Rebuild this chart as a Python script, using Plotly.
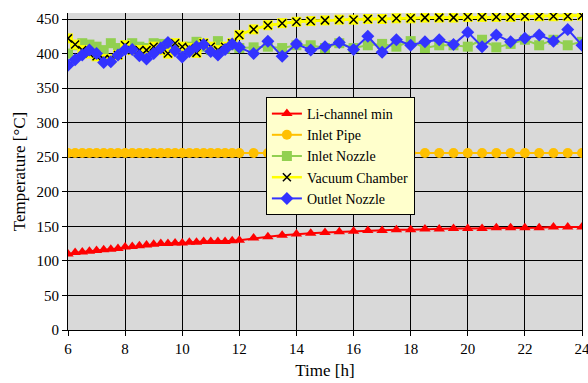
import plotly.graph_objects as go

# Time axis: 6..12 h every 0.25 h, then 12.5..24 h every 0.5 h
time_fine = [6 + 0.25 * i for i in range(25)]
time_coarse = [12.5 + 0.5 * i for i in range(24)]
time_h = time_fine + time_coarse

li_channel_min = [110, 112, 113, 114, 115, 116, 117, 118, 120, 121, 122, 123, 124,
                  125, 125, 126, 126, 127, 127, 128, 128, 128, 128, 129, 130,
                  133, 135, 137, 139, 140, 141, 142, 143, 144, 144, 145, 145,
                  146, 146, 147, 147, 147, 148, 148, 148, 148, 149, 149, 149]

inlet_pipe = [256] * 49

inlet_nozzle = [400, 412, 415, 413, 410, 405, 415, 408, 412, 415, 410, 408, 415,
                414, 405, 412, 408, 410, 417, 410, 405, 418, 407, 412, 408,
                409, 410, 408, 412, 412, 408, 415, 408, 412, 414, 410, 418,
                408, 412, 412, 410, 420, 409, 414, 420, 412, 420, 412, 417]

vacuum_chamber = [422, 413, 405, 400, 396, 392, 392, 398, 412, 405, 405, 405, 410,
                  405, 400, 415, 410, 408, 401, 415, 410, 405, 410, 415, 427,
                  435, 441, 444, 446, 447, 448, 449, 449, 450, 450, 451, 451,
                  452, 452, 452, 453, 453, 453, 453, 454, 454, 454, 454, 455]

outlet_nozzle = [383, 391, 398, 405, 400, 387, 388, 398, 406, 406, 397, 392, 400,
                 408, 416, 404, 395, 403, 410, 413, 403, 398, 406, 414, 409,
                 400, 418, 396, 414, 405, 410, 416, 406, 425, 402, 420, 412,
                 417, 420, 413, 431, 410, 427, 417, 422, 427, 418, 435, 412]

x_ticks = [6, 8, 10, 12, 14, 16, 18, 20, 22, 24]
y_ticks = [0, 50, 100, 150, 200, 250, 300, 350, 400, 450]

FONT = "Liberation Serif"

fig = go.Figure()
fig.add_trace(go.Scatter(x=time_h, y=li_channel_min, name="Li-channel min",
                         mode="lines+markers", line=dict(color="#FF0000", width=2),
                         marker=dict(symbol="triangle-up", size=10, color="#FF0000")))
fig.add_trace(go.Scatter(x=time_h, y=inlet_pipe, name="Inlet Pipe",
                         mode="lines+markers", line=dict(color="#FFC000", width=2),
                         marker=dict(symbol="circle", size=10, color="#FFC000")))
fig.add_trace(go.Scatter(x=time_h, y=inlet_nozzle, name="Inlet Nozzle",
                         mode="lines+markers", line=dict(color="#92D050", width=2),
                         marker=dict(symbol="square", size=10, color="#92D050")))
fig.add_trace(go.Scatter(x=time_h, y=vacuum_chamber, name="Vacuum Chamber",
                         mode="lines+markers", line=dict(color="#FFFF00", width=2.5),
                         marker=dict(symbol="square", size=10, color="#FFFF00"),
                         showlegend=False, legendgroup="vac"))
fig.add_trace(go.Scatter(x=time_h, y=vacuum_chamber, name="Vacuum Chamber",
                         mode="lines+markers", line=dict(color="#FFFF00", width=2.5),
                         marker=dict(symbol="x-thin-open", size=8, color="black",
                                     line=dict(color="black", width=1.5)),
                         legendgroup="vac"))
fig.add_trace(go.Scatter(x=time_h, y=outlet_nozzle, name="Outlet Nozzle",
                         mode="lines+markers", line=dict(color="#3333FF", width=2),
                         marker=dict(symbol="diamond", size=10, color="#3333FF")))

fig.update_layout(
    width=588, height=383,
    margin=dict(l=68, r=6, t=13, b=53, autoexpand=False),
    paper_bgcolor="white", plot_bgcolor="#D9D9D9",
    font=dict(family=FONT, size=15, color="black"),
    legend=dict(x=0.385, y=0.735, xanchor="left", yanchor="top",
                bgcolor="#FFFFCC", bordercolor="black", borderwidth=1,
                font=dict(family=FONT, size=14, color="black"),
                tracegroupgap=0, itemwidth=30),
)
fig.update_xaxes(range=[6, 24], tickvals=x_ticks, ticktext=[str(v) for v in x_ticks],
                 showgrid=True, gridcolor="black", gridwidth=1,
                 showline=True, linecolor="black", linewidth=1,
                 ticks="outside", ticklen=5, tickcolor="black",
                 zeroline=False, ticklabeloverflow="allow", automargin=False,
                 title=dict(text="Time [h]", font=dict(family=FONT, size=17), standoff=8))
fig.update_yaxes(range=[0, 458.7], tickvals=y_ticks, ticktext=[str(v) for v in y_ticks],
                 showgrid=True, gridcolor="black", gridwidth=1,
                 showline=True, linecolor="black", linewidth=1, mirror=True,
                 ticks="outside", ticklen=5, tickcolor="black",
                 zeroline=False, automargin=False,
                 title=dict(text="Temperature [°C]", font=dict(family=FONT, size=17), standoff=6))

fig.write_html("out.html", config={"displayModeBar": False},
               post_script="document.body.style.margin='0';")
